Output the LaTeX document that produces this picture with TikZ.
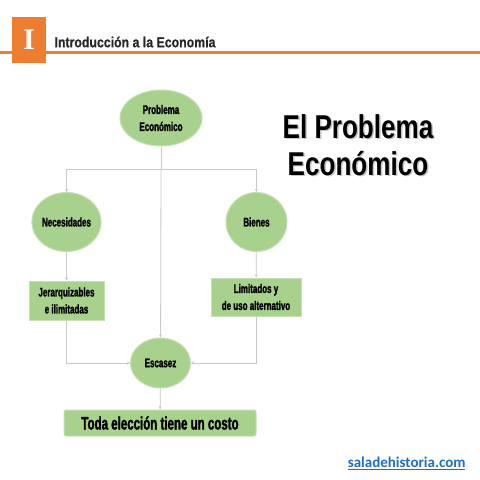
\documentclass[tikz,border=0pt]{standalone}
\usepackage{fontspec}
\usepackage{xcolor}
\usepackage{tikz}
\usetikzlibrary{arrows.meta,shapes.geometric}

\setmainfont{Liberation Sans}
\newfontfamily\condfont[FakeStretch=0.64,BoldFeatures={FakeBold=1.6}]{Liberation Sans}
\newfontfamily\headfont[FakeStretch=0.85,BoldFeatures={FakeBold=0.6}]{Liberation Sans}
\newfontfamily\bigfont[FakeStretch=0.79]{Liberation Sans}
\newfontfamily\webfont{Carlito}
\newfontfamily\serffont{Liberation Serif}

\definecolor{Naranja}{HTML}{ED7D31}
\definecolor{Verde}{HTML}{A9D18E}
\definecolor{VerdeBorde}{HTML}{C5E0B4}
\definecolor{Linea}{HTML}{C8C8C8}
\definecolor{Azul}{HTML}{1F6FC0}

\tikzset{
  oval/.style={ellipse,fill=Verde,draw=VerdeBorde,line width=1pt,inner sep=0pt,
    align=center,font=\condfont\bfseries\fontsize{12.5}{17}\selectfont},
  caja/.style={rectangle,fill=Verde,draw=VerdeBorde,line width=1pt,inner sep=0pt,
    align=center,font=\condfont\bfseries\fontsize{12.5}{17}\selectfont},
  conn/.style={Linea,line width=0.8pt,-{Stealth[length=3pt,width=3pt]}}
}

\begin{document}
\begin{tikzpicture}[x=1pt,y=-1pt]
\useasboundingbox (0,0) rectangle (480,480);
\fill[white] (0,0) rectangle (480,480);

% cabecera
\fill[Naranja] (0,50.5) rectangle (480,53.5);
\fill[Naranja] (12,17) rectangle (46,63);
\node[white,font=\serffont\bfseries\fontsize{30}{30}\selectfont] (num) at (29,40) {I};
\node[anchor=west,text=black!85,font=\headfont\bfseries\fontsize{14.5}{16}\selectfont] (tit) at (51,42) {Introducción a la Economía};

% titulo grande
\node[gray!45,align=center,font=\bigfont\bfseries\fontsize{33}{37}\selectfont] (sombra) at (359.5,146.5) {El Problema\\Económico};
\node[black,align=center,font=\bigfont\bfseries\fontsize{33}{37}\selectfont] (grande) at (358,145) {El Problema\\Económico};

% nodos
\node[oval,minimum width=82,minimum height=56] (prob) at (161,118) {Problema\\Económico};
\node[oval,minimum width=61,minimum height=59] (nec) at (66.5,222) {Necesidades};
\node[oval,minimum width=61,minimum height=59] (bie) at (256.5,222) {Bienes};
\node[caja,minimum width=75,minimum height=39] (jer) at (66.5,300.5) {Jerarquizables\\e ilimitadas};
\node[caja,minimum width=90,minimum height=38] (lim) at (256,297) {Limitados y\\de uso alternativo};
\node[oval,minimum width=60,minimum height=50] (esc) at (160.5,363) {Escasez};
\node[caja,rounded corners=2pt,minimum width=192,minimum height=26,
  font=\condfont\bfseries\fontsize{18}{20}\selectfont] (toda) at (160,423) {Toda elección tiene un costo};

\coordinate (fork) at (161,169);

% conectores
\draw[Linea,line width=0.8pt] (prob) -- (fork);
\draw[conn] (fork) -| (nec);
\draw[conn] (fork) -| (bie);
\draw[conn] (fork) -- (esc);
\draw[conn] (nec) -- (jer);
\draw[conn] (bie) -- (lim);
\draw[conn] (jer) |- (esc);
\draw[conn] (lim) |- (esc);
\draw[conn] (esc) -- (toda);

% pie
\node[anchor=east,text=Azul,font=\webfont\bfseries\fontsize{15}{17}\selectfont] (web) at (469,463) {\underline{saladehistoria.com}};
\end{tikzpicture}
\end{document}
